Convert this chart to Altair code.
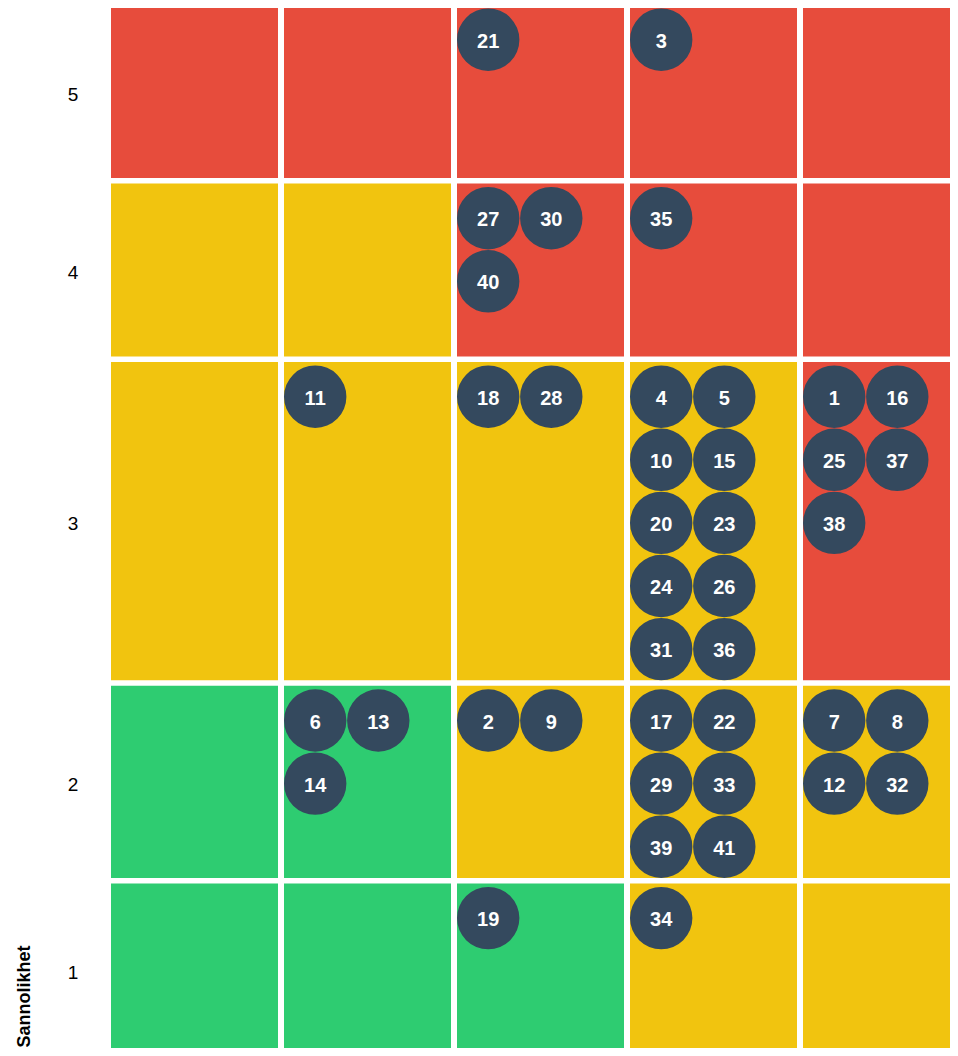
import math
import altair as alt
import pandas as pd

# ---------------- data ----------------
prob_levels = [5, 4, 3, 2, 1]          # Sannolikhet, top to bottom
cons_levels = [1, 2, 3, 4, 5]          # consequence, left to right

zone_p5 = ["high", "high", "high", "high", "high"]
zone_p4 = ["medium", "medium", "high", "high", "high"]
zone_p3 = ["medium", "medium", "medium", "medium", "high"]
zone_p2 = ["low", "low", "medium", "medium", "medium"]
zone_p1 = ["low", "low", "low", "medium", "medium"]
zone_names = ["low", "medium", "high"]
zone_colors = ["#2ecc71", "#f1c40f", "#e74c3c"]

risk_ids = list(range(1, 42))
risk_prob = [3, 2, 5, 3, 3, 2, 2, 2, 2, 3,
             3, 2, 2, 2, 3, 3, 2, 3, 1, 3,
             5, 2, 3, 3, 3, 3, 4, 3, 2, 4,
             3, 2, 2, 1, 4, 3, 3, 3, 2, 4, 2]
risk_cons = [5, 3, 4, 4, 4, 2, 5, 5, 3, 4,
             2, 5, 2, 2, 4, 5, 4, 3, 3, 4,
             3, 4, 4, 4, 5, 4, 3, 3, 4, 3,
             4, 5, 4, 4, 4, 4, 5, 5, 4, 3, 4]

# ---------------- layout (style constants) ----------------
COL_PITCH = 173.0
CELL_W = 167.0
DOT = 62.4
DOT_PITCH = 63.1
ROW_GAP = 5.5
MIN_CELL_H = 173.0
PAD_TOP = 3.5
PER_LINE = 2
TOP_CLIP = 3.0
SVG_W = 942
SVG_H = 1040
LEFT_PAD = 103

zones = {5: zone_p5, 4: zone_p4, 3: zone_p3, 2: zone_p2, 1: zone_p1}

risks = pd.DataFrame({"id": risk_ids, "p": risk_prob, "c": risk_cons})
risks = risks.sort_values("id")

row_top = {}
row_h = {}
y = 0.0
for p in prob_levels:
    counts = [int(((risks.p == p) & (risks.c == c)).sum()) for c in cons_levels]
    lines = max(1, math.ceil(max(counts) / PER_LINE))
    h = max(MIN_CELL_H, PAD_TOP + DOT + (lines - 1) * DOT_PITCH)
    row_top[p] = y
    row_h[p] = h
    y += h + ROW_GAP
total_h = y - ROW_GAP

cell_rows = []
for p in prob_levels:
    for i, c in enumerate(cons_levels):
        x0 = (c - 1) * COL_PITCH
        cell_rows.append({"p": p, "c": c, "zone": zones[p][i],
                          "x0": x0, "x1": x0 + CELL_W,
                          "y0": row_top[p], "y1": row_top[p] + row_h[p]})
cells = pd.DataFrame(cell_rows)

dot_rows = []
for (p, c), g in risks.groupby(["p", "c"]):
    for k, rid in enumerate(sorted(g.id)):
        dot_rows.append({"id": str(rid), "p": p, "c": c,
                         "cx": (c - 1) * COL_PITCH + DOT / 2 + (k % PER_LINE) * DOT_PITCH,
                         "cy": row_top[p] + PAD_TOP + DOT / 2 + (k // PER_LINE) * DOT_PITCH})
dots = pd.DataFrame(dot_rows)

centers = [row_top[p] + row_h[p] / 2 for p in prob_levels]
label_expr = ""
for p in prob_levels:
    label_expr += f"datum.value <= {row_top[p] + row_h[p] + ROW_GAP / 2:.2f} ? '{p}' : "
label_expr += "''"

# visible plot area (the matrix runs on past the right and bottom edges)
plot_w = SVG_W - LEFT_PAD
plot_h = SVG_H

xs = alt.Scale(domain=[0, plot_w], nice=False, zero=False)
ys = alt.Scale(domain=[TOP_CLIP, TOP_CLIP + plot_h], nice=False, zero=False, reverse=True)

y_axis = alt.Axis(values=centers, labelExpr=label_expr, ticks=False, tickSize=0,
                  domain=False, grid=False, labelAlign="center", labelBaseline="middle",
                  labelPadding=38.5, labelOffset=2.5, labelFontSize=19, labelColor="#000000",
                  labelFont="Liberation Sans", title="Sannolikhet",
                  titleFont="Liberation Sans", titleFontSize=18, titleFontWeight="bold",
                  titleColor="#000000", titleAngle=270, titleAlign="left",
                  titleBaseline="alphabetic", titleX=-82, titleY=plot_h - 1)

rects = alt.Chart(cells).mark_rect(opacity=1).encode(
    x=alt.X("x0:Q", scale=xs, axis=None),
    x2="x1:Q",
    y=alt.Y("y0:Q", scale=ys, axis=y_axis),
    y2="y1:Q",
    color=alt.Color("zone:N", scale=alt.Scale(domain=zone_names, range=zone_colors), legend=None),
)

circles = alt.Chart(dots).mark_circle(size=DOT * DOT, opacity=1, color="#34495e").encode(
    x=alt.X("cx:Q", scale=xs, axis=None),
    y=alt.Y("cy:Q", scale=ys),
)

labels = alt.Chart(dots).mark_text(font="Liberation Sans", fontSize=20, fontWeight="bold",
                                   color="#ffffff", baseline="middle", align="center", dy=2).encode(
    x=alt.X("cx:Q", scale=xs, axis=None),
    y=alt.Y("cy:Q", scale=ys),
    text="id:N",
)

chart = alt.layer(rects, circles, labels).properties(
    width=plot_w, height=plot_h,
    autosize=alt.AutoSizeParams(type="none"),
    padding={"left": LEFT_PAD, "top": 0, "right": 0, "bottom": 0},
).configure_view(stroke=None)

chart.save("out.html", embed_options={"renderer": "svg", "actions": False})
